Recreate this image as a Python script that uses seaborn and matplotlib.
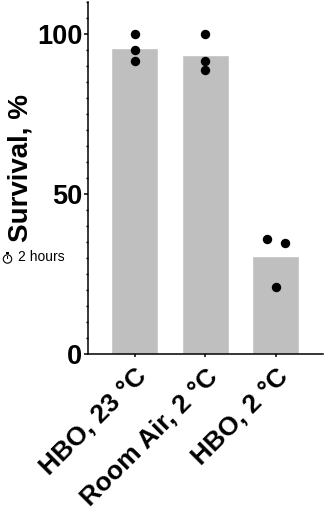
import pandas as pd
import seaborn as sns
import matplotlib.pyplot as plt
from matplotlib.patches import Circle, Rectangle
from matplotlib.ticker import MultipleLocator
from matplotlib.transforms import ScaledTranslation

groups = ['HBO, 23 °C', 'Room Air, 2 °C', 'HBO, 2 °C']
means = [95.5, 93.4, 30.7]
point_group = [0, 0, 0, 1, 1, 1, 2, 2, 2]
point_values = [100, 95, 91.5, 100, 91.5, 88.7, 36, 34.7, 21]
point_dodge = [0, 0, 0, 0, 0, 0, -0.125, 0.125, 0]

sns.set_style('ticks')
plt.rcParams['font.family'] = ['Liberation Sans', 'DejaVu Sans']
plt.rcParams['text.color'] = 'black'
plt.rcParams['xtick.labelcolor'] = 'black'
plt.rcParams['ytick.labelcolor'] = 'black'
W, H = 325, 513

fig = plt.figure(figsize=(W / 100, H / 100), dpi=100)
ax = fig.add_axes([87.7 / W, 1 - 354 / H, (323 - 87.7) / W, (354 - 2) / H])

bars = pd.DataFrame({'group': groups, 'survival': means})
sns.barplot(x='group', y='survival', data=bars, color='#bfbfbf', saturation=1,
            width=0.667, ax=ax)

points = pd.DataFrame({'x': [g + d for g, d in zip(point_group, point_dodge)],
                       'y': point_values})
sns.scatterplot(x='x', y='y', data=points, color='black', s=46, linewidth=0,
                zorder=5, clip_on=False, ax=ax)

ax.set_xlim(-0.67, 2.67)
ax.set_ylim(0, 110)
ax.set_xticks(range(len(groups)))
ax.set_xticklabels(groups, rotation=45, ha='right', rotation_mode='anchor',
                   fontsize=19, fontweight='bold')
# labels sit a little left of their ticks
shift = ScaledTranslation(-3 / 100, 0, fig.dpi_scale_trans)
for lab in ax.get_xticklabels():
    lab.set_transform(lab.get_transform() + shift)
ax.set_yticks([0, 50, 100])
ax.set_yticklabels(['0', '50', '100'], fontsize=19.5, fontweight='bold')
ax.yaxis.set_minor_locator(MultipleLocator(5))
ax.tick_params(axis='y', which='major', length=3, width=1.1, pad=1, color='black')
ax.tick_params(axis='y', which='minor', length=1.6, width=1, color='black')
ax.tick_params(axis='x', length=2.5, width=1.1, pad=5, color='black')
ax.set_xlabel('')
ax.set_ylabel('')
for s in ['left', 'bottom']:
    ax.spines[s].set_linewidth(1.1)
    ax.spines[s].set_color('black')
sns.despine(ax=ax)

fig.text(21 / W, 1 - 168 / H, 'Survival, %', rotation=90, fontsize=20,
         fontweight='bold', ha='center', va='center')

# stopwatch icon and time note
fig.text(18 / W, 1 - 257 / H, '2 hours', fontsize=10, ha='left', va='center')
fig.add_artist(Circle((7.5, H - 259), 4.2, transform=None, fill=False,
                      edgecolor='black', linewidth=0.8))
fig.add_artist(Rectangle((6, H - 253.5), 3, 1.2, transform=None,
                         facecolor='black', linewidth=0))
fig.add_artist(Rectangle((7.1, H - 259), 0.8, 3, transform=None,
                         facecolor='black', linewidth=0))

plt.savefig('out.png', dpi=100)
plt.close()
